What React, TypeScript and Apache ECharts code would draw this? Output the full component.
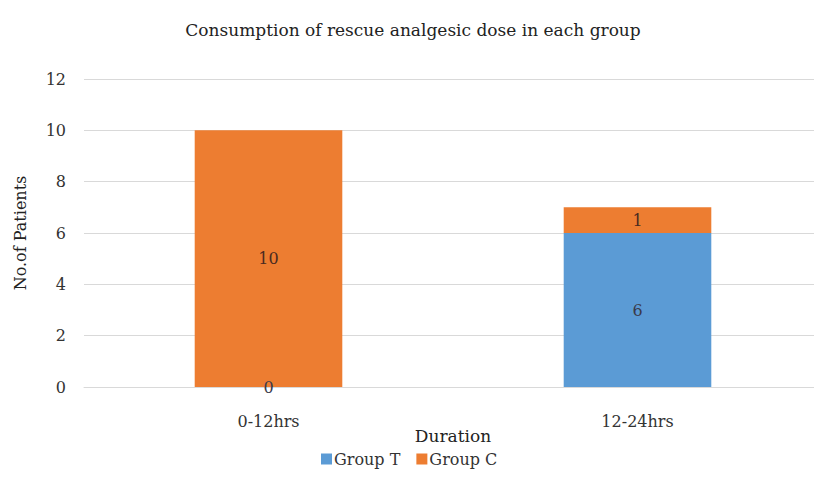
import React, { useEffect, useRef } from "react";
import * as echarts from "echarts";

const categories = ["0-12hrs", "12-24hrs"];
const groupT = [0, 6];
const groupC = [10, 1];
const yTicks = { min: 0, max: 12, interval: 2 };

const FONT = "DejaVu Serif";

export default function App() {
  const ref = useRef<HTMLDivElement>(null);
  useEffect(() => {
    const chart = echarts.init(ref.current!, null, { renderer: "svg" });
    chart.setOption({
      animation: false,
      backgroundColor: "#ffffff",
      textStyle: { fontFamily: FONT },
      title: {
        text: "Consumption of rescue analgesic dose in each group",
        left: 408,
        textAlign: "center",
        top: 16,
        textStyle: { fontFamily: FONT, fontSize: 17, fontWeight: "normal", color: "#222" },
      },
      legend: {
        top: 446,
        left: 316,
        itemWidth: 11,
        itemHeight: 11,
        itemGap: 16,
        icon: "rect",
        textStyle: { fontFamily: FONT, fontSize: 16, color: "#333", padding: [0, 0, 0, -3] },
        data: ["Group T", "Group C"],
      },
      grid: { left: 84, top: 79, width: 738, height: 308, containLabel: false },
      xAxis: {
        type: "category",
        data: categories,
        name: "Duration",
        nameLocation: "middle",
        nameGap: 40,
        nameMoveOverlap: false,
        nameTextStyle: { fontFamily: FONT, fontSize: 17, color: "#222" },
        axisLine: { lineStyle: { color: "#d9d9d9" } },
        axisTick: { show: false },
        axisLabel: { fontFamily: FONT, fontSize: 16, color: "#333", margin: 26 },
      },
      yAxis: {
        type: "value",
        min: yTicks.min,
        max: yTicks.max,
        interval: yTicks.interval,
        name: "No.of Patients",
        nameLocation: "middle",
        nameGap: 56,
        nameMoveOverlap: false,
        nameTextStyle: { fontFamily: FONT, fontSize: 16, color: "#222" },
        axisLine: { show: false },
        axisTick: { show: false },
        axisLabel: { fontFamily: FONT, fontSize: 16, color: "#333", margin: 18 },
        splitLine: { lineStyle: { color: "#d9d9d9", width: 1 } },
      },
      series: [
        {
          name: "Group T",
          type: "bar",
          stack: "total",
          data: groupT,
          barWidth: "40%",
          itemStyle: { color: "#5B9BD5" },
          label: { show: true, position: "inside", fontFamily: FONT, fontSize: 16, color: "#3a3a4a" },
        },
        {
          name: "Group C",
          type: "bar",
          stack: "total",
          data: groupC,
          barWidth: "40%",
          itemStyle: { color: "#ED7D31" },
          label: { show: true, position: "inside", fontFamily: FONT, fontSize: 16, color: "#4a2a20" },
        },
      ],
    });
    return () => chart.dispose();
  }, []);
  return (
    <div style={{ position: "fixed", left: 0, top: 0, width: 814, height: 494, overflow: "hidden" }}>
      <div ref={ref} style={{ width: 830, height: 494 }} />
    </div>
  );
}
